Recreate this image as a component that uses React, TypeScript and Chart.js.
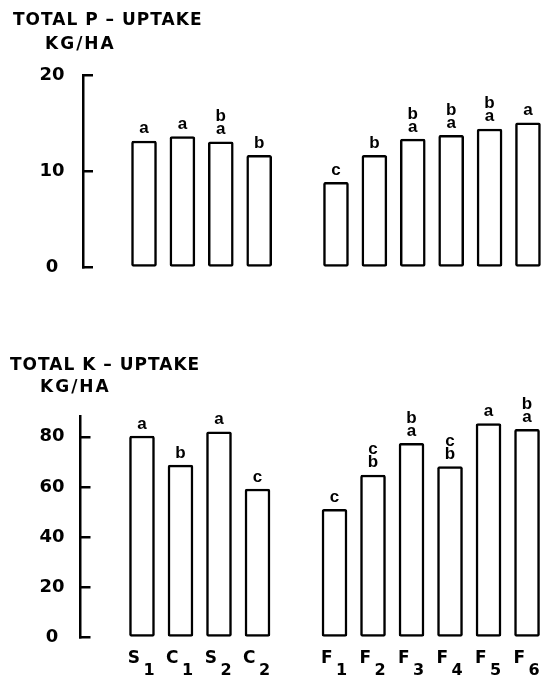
import { useEffect, useRef } from "react";
import { Chart, registerables } from "chart.js";

Chart.register(...registerables);

// Treatments: seed/control group, then fertiliser group (one empty slot between groups)
const seedTreatments = ["S1", "C1", "S2", "C2"];
const fertTreatments = ["F1", "F2", "F3", "F4", "F5", "F6"];

// Total P-uptake, kg/ha
const pUptakeSeed = [13.2, 13.65, 13.1, 11.7];
const pUptakeFert = [8.9, 11.7, 13.4, 13.8, 14.45, 15.1];
const pLettersSeed = ["a", "a", "ab", "b"];
const pLettersFert = ["c", "b", "ab", "ab", "ab", "a"];
const pTicks = [0, 10, 20];

// Total K-uptake, kg/ha
const kUptakeSeed = [80.3, 68.7, 82, 59.2];
const kUptakeFert = [51.1, 64.8, 77.4, 68.1, 85.3, 83];
const kLettersSeed = ["a", "b", "a", "c"];
const kLettersFert = ["c", "bc", "ab", "bc", "a", "ab"];
const kTicks = [0, 20, 40, 60, 80];

const CAPS_FONT = '"DejaVu Sans"';
const LETTER_FONT = '"Liberation Sans"';

function buildPoints(seed: number[], fert: number[]) {
  const pts: { x: number; y: number }[] = [];
  seed.forEach((v, i) => pts.push({ x: i, y: v }));
  fert.forEach((v, i) => pts.push({ x: seed.length + 1 + i, y: v }));
  return pts;
}

const annotate = {
  id: "annotate",
  afterDatasetsDraw(chart: any, _args: any, opts: any) {
    const ctx: CanvasRenderingContext2D = chart.ctx;
    const meta = chart.getDatasetMeta(0);
    const area = chart.chartArea;
    ctx.save();
    ctx.fillStyle = "#000";
    ctx.textBaseline = "alphabetic";

    // significance letters, first letter nearest the bar
    ctx.font = `bold 17px ${LETTER_FONT}`;
    ctx.textAlign = "center";
    meta.data.forEach((bar: any, i: number) => {
      const letters: string = opts.letters[i] || "";
      for (let k = 0; k < letters.length; k++) {
        ctx.fillText(letters[k], bar.x, bar.y - 7.5 - 13 * k);
      }
    });

    // treatment labels with subscript numbers
    if (opts.showCategories) {
      meta.data.forEach((bar: any, i: number) => {
        const name: string = opts.categories[i];
        ctx.font = `bold 17px ${CAPS_FONT}`;
        ctx.textAlign = "right";
        ctx.fillText(name[0], bar.x - 2, area.bottom + 25);
        ctx.font = `bold 16px ${CAPS_FONT}`;
        ctx.textAlign = "left";
        ctx.fillText(name.slice(1), bar.x + 1.5, area.bottom + 37.5);
      });
    }

    // panel title and unit
    ctx.font = `bold 17px ${CAPS_FONT}`;
    ctx.textAlign = "left";
    (ctx as any).letterSpacing = "1px";
    ctx.fillText(opts.title, opts.titleX, opts.titleY);
    (ctx as any).letterSpacing = "2px";
    ctx.fillText(opts.unit, opts.unitX, opts.unitY);
    (ctx as any).letterSpacing = "0px";
    ctx.restore();
  },
};

type PanelProps = {
  top: number;
  height: number;
  values: { x: number; y: number }[];
  letters: string[];
  categories: string[];
  ticks: number[];
  yMax: number;
  area: { top: number; bottom: number; left: number; right: number };
  xMin: number;
  xMax: number;
  labelPadding: number;
  title: string;
  unit: string;
  titlePos: [number, number];
  unitPos: [number, number];
  showCategories: boolean;
};

function Panel(p: PanelProps) {
  const ref = useRef<HTMLCanvasElement | null>(null);
  useEffect(() => {
    if (!ref.current) return;
    const chart = new Chart(ref.current, {
      type: "bar",
      data: {
        datasets: [
          {
            data: p.values as any,
            backgroundColor: "#fff",
            borderColor: "#000",
            borderWidth: 2.5,
            borderRadius: 2,
            borderSkipped: false,
            barThickness: 25,
          },
        ],
      },
      options: {
        responsive: false,
        animation: false,
        events: [],
        layout: {
          padding: {
            top: p.area.top,
            bottom: p.height - p.area.bottom,
            left: 0,
            right: 547 - p.area.right,
          },
        },
        plugins: {
          legend: { display: false },
          tooltip: { enabled: false },
          annotate: {
            letters: p.letters,
            categories: p.categories,
            showCategories: p.showCategories,
            title: p.title,
            unit: p.unit,
            titleX: p.titlePos[0],
            titleY: p.titlePos[1],
            unitX: p.unitPos[0],
            unitY: p.unitPos[1],
          },
        } as any,
        scales: {
          x: {
            type: "linear",
            min: p.xMin,
            max: p.xMax,
            offset: false,
            grid: { offset: false },
            display: false,
          },
          y: {
            min: 0,
            max: p.yMax,
            afterBuildTicks: (scale: any) => {
              scale.ticks = p.ticks.map((v) => ({ value: v }));
            },
            afterFit: (scale: any) => {
              scale.width = p.area.left;
            },
            ticks: {
              color: "#000",
              font: { family: "DejaVu Sans", weight: "bold", size: 18 },
              crossAlign: "center",
              padding: p.labelPadding,
            },
            grid: {
              display: true,
              drawOnChartArea: false,
              drawTicks: true,
              tickLength: -10,
              lineWidth: 2.5,
              color: "#000",
            },
            border: { display: true, width: 2.5, color: "#000" },
          },
        },
      },
      plugins: [annotate],
    });
    return () => chart.destroy();
  }, []);
  return (
    <canvas
      ref={ref}
      width={547}
      height={p.height}
      style={{ position: "absolute", left: 0, top: p.top, width: 547, height: p.height }}
    />
  );
}

export default function App() {
  const categories = [...seedTreatments, ...fertTreatments];
  return (
    <div style={{ position: "absolute", left: 0, top: 0, width: 547, height: 678, background: "#fff" }}>
      <Panel
        top={0}
        height={330}
        values={buildPoints(pUptakeSeed, pUptakeFert)}
        letters={[...pLettersSeed, ...pLettersFert]}
        categories={categories}
        ticks={pTicks}
        yMax={20}
        area={{ top: 75.7, bottom: 267.7, left: 83, right: 541.4 }}
        xMin={-1.589}
        xMax={10.35}
        labelPadding={28.5}
        title="TOTAL P – UPTAKE"
        unit="KG/HA"
        titlePos={[13, 25]}
        unitPos={[45, 49]}
        showCategories={false}
      />
      <Panel
        top={330}
        height={348}
        values={buildPoints(kUptakeSeed, kUptakeFert)}
        letters={[...kLettersSeed, ...kLettersFert]}
        categories={categories}
        ticks={kTicks}
        yMax={88}
        area={{ top: 86.7, bottom: 307.7, left: 80.5, right: 540.5 }}
        xMin={-1.597}
        xMax={10.35}
        labelPadding={26}
        title="TOTAL K – UPTAKE"
        unit="KG/HA"
        titlePos={[10, 40]}
        unitPos={[40, 61.5]}
        showCategories={true}
      />
    </div>
  );
}
